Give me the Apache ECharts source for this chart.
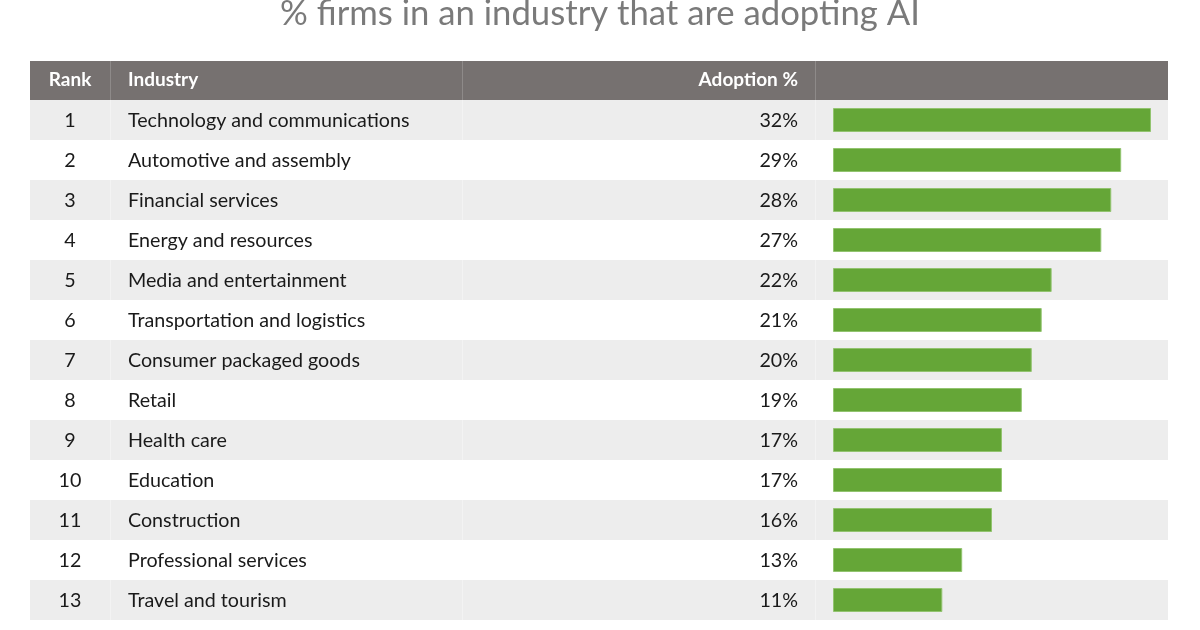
<!DOCTYPE html>
<html lang="en">
<head>
    <meta charset="UTF-8">
    <title>% firms in an industry that are adopting AI</title>
    <script src="https://cdn.jsdelivr.net/npm/echarts@6/dist/echarts.min.js"></script>
    <style>
        html, body { margin: 0; padding: 0; background: #fff; }
        #chart { width: 1200px; height: 630px; }
    </style>
</head>
<body>
    <div id="chart"></div>
    <script>
        const ranks = [1, 2, 3, 4, 5, 6, 7, 8, 9, 10, 11, 12, 13];
        const industries = [
            'Technology and communications',
            'Automotive and assembly',
            'Financial services',
            'Energy and resources',
            'Media and entertainment',
            'Transportation and logistics',
            'Consumer packaged goods',
            'Retail',
            'Health care',
            'Education',
            'Construction',
            'Professional services',
            'Travel and tourism'
        ];
        const adoption = [32, 29, 28, 27, 22, 21, 20, 19, 17, 17, 16, 13, 11];
        const headers = ['Rank', 'Industry', 'Adoption %'];

        const FONT = 'Lato, "Noto Sans", sans-serif';
        const TABLE_L = 30, TABLE_R = 1168;
        const dividers = [110, 462, 815];

        const chart = echarts.init(document.getElementById('chart'), null, { renderer: 'canvas' });

        // header band + column dividers (layout only)
        const graphics = [
            {
                type: 'rect', z: 10,
                shape: { x: TABLE_L, y: 61, width: TABLE_R - TABLE_L, height: 39 },
                style: { fill: '#767170' }
            }
        ];
        dividers.forEach(x => {
            graphics.push({
                type: 'line', z: 11,
                shape: { x1: x + 0.5, y1: 61, x2: x + 0.5, y2: 100 },
                style: { stroke: '#8e8a89', lineWidth: 1 }
            });
        });
        graphics.push(
            { type: 'text', z: 12, x: 70, y: 80, style: { text: headers[0], fill: '#fff', font: 'bold 19px ' + FONT, align: 'center', verticalAlign: 'middle' } },
            { type: 'text', z: 12, x: 128, y: 80, style: { text: headers[1], fill: '#fff', font: 'bold 19px ' + FONT, align: 'left', verticalAlign: 'middle' } },
            { type: 'text', z: 12, x: 798, y: 80, style: { text: headers[2], fill: '#fff', font: 'bold 19px ' + FONT, align: 'right', verticalAlign: 'middle' } }
        );

        const option = {
            animation: false,
            backgroundColor: '#ffffff',
            title: {
                text: '% firms in an industry that are adopting AI',
                left: 'center',
                top: -9,
                textStyle: { fontFamily: FONT, fontSize: 34.7, fontWeight: 'normal', color: '#7a7a7a' }
            },
            graphic: graphics,
            grid: [
                { left: TABLE_L, right: 1200 - TABLE_R, top: 100, bottom: 10 },
                { left: 833, width: 318, top: 100, bottom: 10 }
            ],
            xAxis: [
                { gridIndex: 0, type: 'value', min: 0, max: 1, show: false },
                { gridIndex: 1, type: 'value', min: 0, max: 32, show: false }
            ],
            yAxis: [
                { gridIndex: 0, type: 'category', data: industries, inverse: true, show: false },
                { gridIndex: 1, type: 'category', data: industries, inverse: true, show: false }
            ],
            series: [
                {
                    // table rows: striped background, rank, industry and percent text
                    type: 'custom',
                    xAxisIndex: 0,
                    yAxisIndex: 0,
                    z: 1,
                    data: industries.map((name, i) => [0, i]),
                    renderItem: function (params, api) {
                        const i = api.value(1);
                        const c = api.coord([0, i]);
                        const h = api.size([0, 1])[1];
                        const top = c[1] - h / 2;
                        const children = [];
                        if (i % 2 === 0) {
                            children.push({
                                type: 'rect',
                                shape: { x: TABLE_L, y: top, width: TABLE_R - TABLE_L, height: h },
                                style: { fill: '#ededed' }
                            });
                            dividers.forEach(x => {
                                children.push({
                                    type: 'line',
                                    shape: { x1: x + 0.5, y1: top, x2: x + 0.5, y2: top + h },
                                    style: { stroke: '#f3f3f3', lineWidth: 1 }
                                });
                            });
                        }
                        const txt = (x, s, align) => ({
                            type: 'text', x: x, y: c[1] + 1,
                            style: { text: s, fill: '#1a1a1a', font: '19.7px ' + FONT, align: align, verticalAlign: 'middle' }
                        });
                        children.push(txt(70, String(ranks[i]), 'center'));
                        children.push(txt(128, industries[i], 'left'));
                        children.push(txt(798, adoption[i] + '%', 'right'));
                        return { type: 'group', children: children };
                    }
                },
                {
                    type: 'bar',
                    xAxisIndex: 1,
                    yAxisIndex: 1,
                    z: 5,
                    data: adoption,
                    barWidth: 24,
                    itemStyle: { color: '#65a637', borderColor: '#92c46f', borderWidth: 1 }
                }
            ]
        };

        chart.setOption(option);
    </script>
</body>
</html>
